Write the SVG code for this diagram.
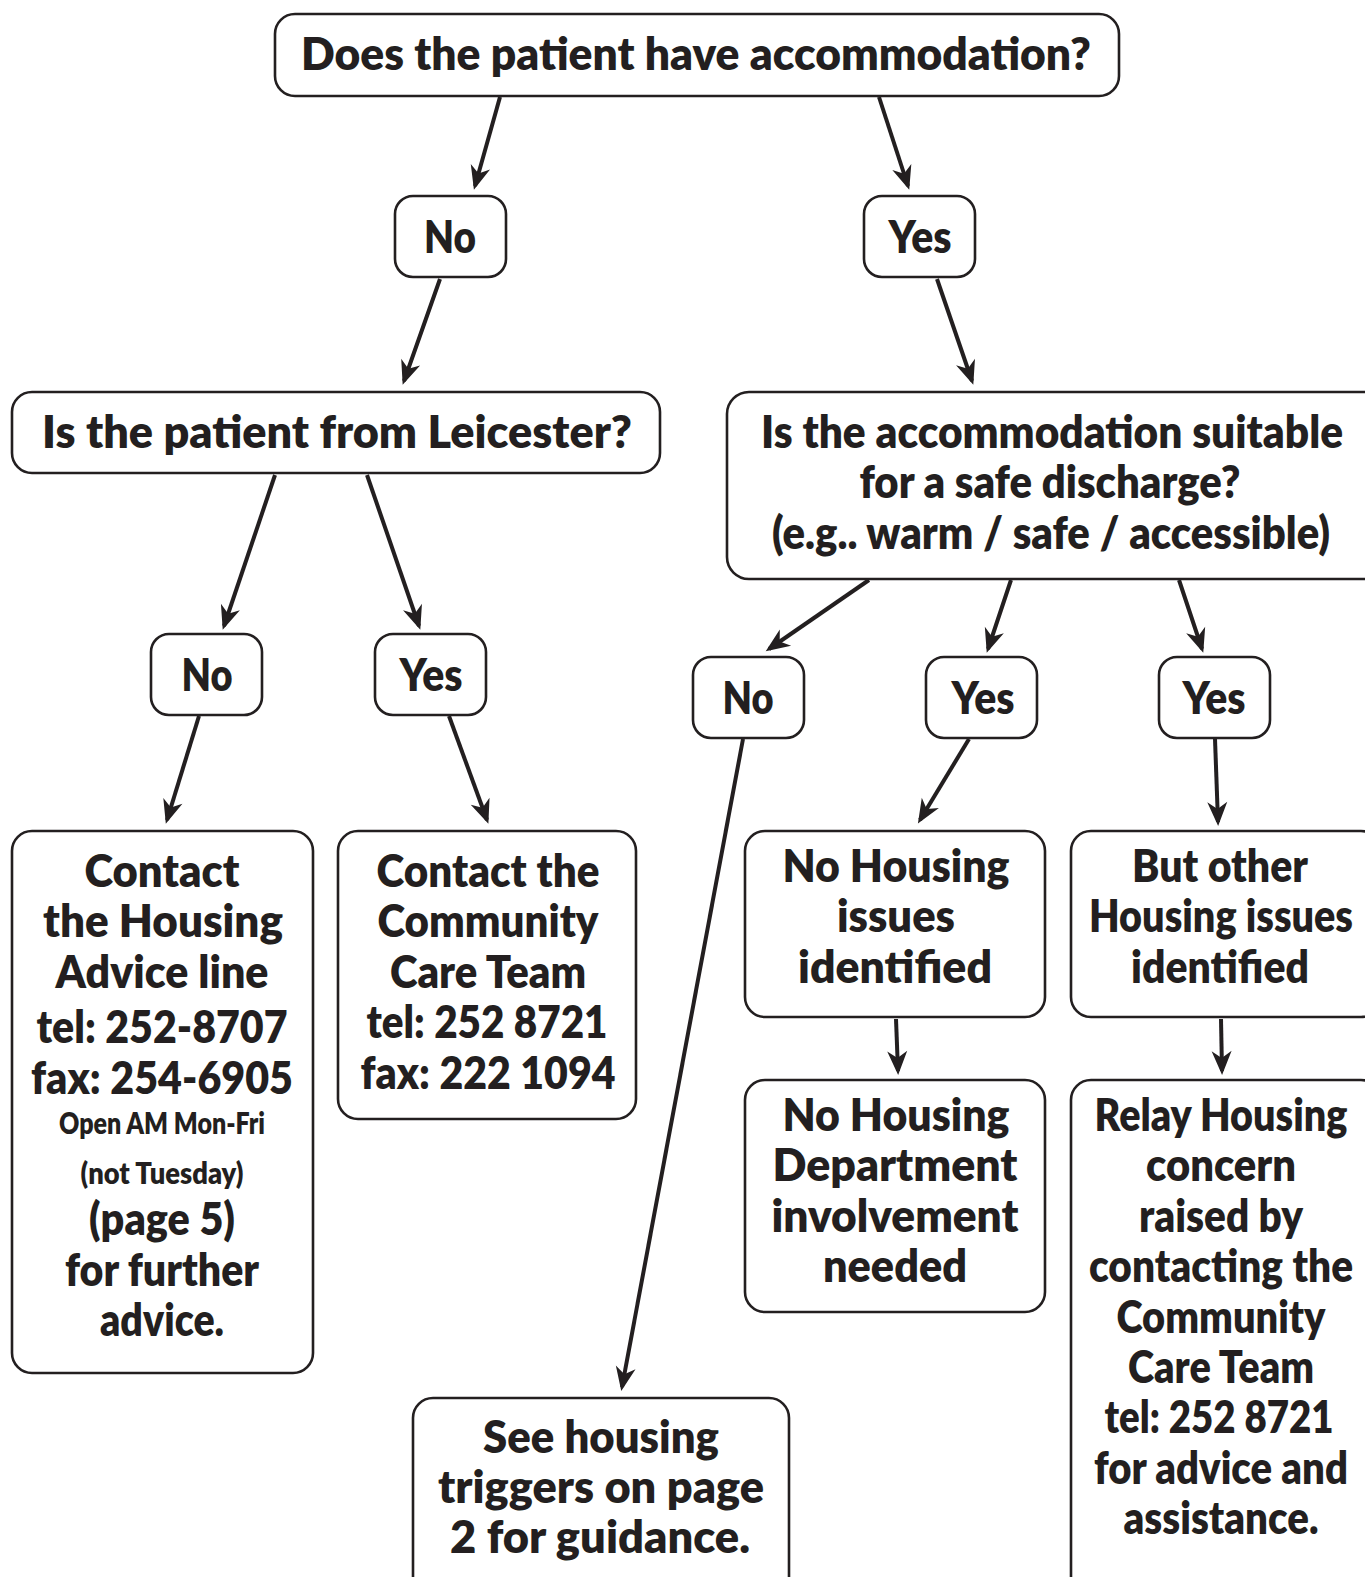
<svg xmlns="http://www.w3.org/2000/svg" width="1365" height="1577" viewBox="0 0 1365 1577">
<style>
.box{fill:#fff;stroke:#231f20;stroke-width:2.6}
.t{font-family:Lato,"Open Sans","Liberation Sans",sans-serif;font-weight:800;font-size:46px;fill:#231f20;text-anchor:middle}
.s{font-size:31px}
.c{stroke:#231f20;stroke-width:4;fill:none}
</style>
<defs>
<marker id="ah" markerUnits="userSpaceOnUse" viewBox="-26 -13 30 26" refX="-3" refY="0" markerWidth="30" markerHeight="26" orient="auto">
<path d="M1,0 L-23,-10 L-16,0 L-23,10 Z" fill="#231f20"/>
</marker>
</defs>
<rect width="1365" height="1577" fill="#fff"/>

<g id="connectors">
<line class="c" x1="500" y1="97" x2="475" y2="186" marker-end="url(#ah)"/>
<line class="c" x1="879" y1="97" x2="908" y2="186" marker-end="url(#ah)"/>
<line class="c" x1="440" y1="279" x2="404" y2="381" marker-end="url(#ah)"/>
<line class="c" x1="937" y1="279" x2="972" y2="381" marker-end="url(#ah)"/>
<line class="c" x1="275" y1="475" x2="224" y2="626" marker-end="url(#ah)"/>
<line class="c" x1="367" y1="475" x2="419" y2="626" marker-end="url(#ah)"/>
<line class="c" x1="869" y1="580" x2="769" y2="649" marker-end="url(#ah)"/>
<line class="c" x1="1011" y1="580" x2="988" y2="649" marker-end="url(#ah)"/>
<line class="c" x1="1179" y1="580" x2="1202" y2="649" marker-end="url(#ah)"/>
<line class="c" x1="199" y1="716" x2="167" y2="820" marker-end="url(#ah)"/>
<line class="c" x1="449" y1="716" x2="487" y2="820" marker-end="url(#ah)"/>
<line class="c" x1="743" y1="739" x2="622" y2="1387" marker-end="url(#ah)"/>
<line class="c" x1="969" y1="739" x2="920" y2="820" marker-end="url(#ah)"/>
<line class="c" x1="1215" y1="739" x2="1218" y2="822" marker-end="url(#ah)"/>
<line class="c" x1="896" y1="1019" x2="898" y2="1071" marker-end="url(#ah)"/>
<line class="c" x1="1221" y1="1019" x2="1222" y2="1071" marker-end="url(#ah)"/>
</g>

<g id="q1">
<rect class="box" x="275" y="14" width="844" height="82" rx="20"/>
<text class="t" x="696" y="70" textLength="790" lengthAdjust="spacingAndGlyphs">Does the patient have accommodation?</text>
</g>
<g id="no1">
<rect class="box" x="395" y="196" width="111" height="81" rx="18"/>
<text class="t" x="450" y="253" textLength="52" lengthAdjust="spacingAndGlyphs">No</text>
</g>
<g id="yes1">
<rect class="box" x="864" y="196" width="111" height="81" rx="18"/>
<text class="t" x="920" y="253" textLength="63" lengthAdjust="spacingAndGlyphs">Yes</text>
</g>

<g id="q2">
<rect class="box" x="12" y="392" width="648" height="81" rx="20"/>
<text class="t" x="337" y="448" textLength="590" lengthAdjust="spacingAndGlyphs">Is the patient from Leicester?</text>
</g>
<g id="q3">
<rect class="box" x="727" y="392" width="660" height="187" rx="22"/>
<text class="t" x="1052" y="448" textLength="582" lengthAdjust="spacingAndGlyphs">Is the accommodation suitable</text>
<text class="t" x="1050" y="498" textLength="381" lengthAdjust="spacingAndGlyphs">for a safe discharge?</text>
<text class="t" x="1051" y="549" textLength="558" lengthAdjust="spacingAndGlyphs">(e.g.. warm / safe / accessible)</text>
</g>

<g id="no2">
<rect class="box" x="151" y="634" width="111" height="81" rx="18"/>
<text class="t" x="207" y="691" textLength="51" lengthAdjust="spacingAndGlyphs">No</text>
</g>
<g id="yes2">
<rect class="box" x="375" y="634" width="111" height="81" rx="18"/>
<text class="t" x="431" y="691" textLength="63" lengthAdjust="spacingAndGlyphs">Yes</text>
</g>
<g id="no3">
<rect class="box" x="693" y="657" width="111" height="81" rx="18"/>
<text class="t" x="748" y="714" textLength="51" lengthAdjust="spacingAndGlyphs">No</text>
</g>
<g id="yes3">
<rect class="box" x="926" y="657" width="111" height="81" rx="18"/>
<text class="t" x="983" y="714" textLength="63" lengthAdjust="spacingAndGlyphs">Yes</text>
</g>
<g id="yes4">
<rect class="box" x="1159" y="657" width="111" height="81" rx="18"/>
<text class="t" x="1214" y="714" textLength="63" lengthAdjust="spacingAndGlyphs">Yes</text>
</g>

<g id="housingAdvice">
<rect class="box" x="12" y="831" width="301" height="542" rx="20"/>
<text class="t" x="162" y="887" textLength="155" lengthAdjust="spacingAndGlyphs">Contact</text>
<text class="t" x="163" y="937" textLength="240" lengthAdjust="spacingAndGlyphs">the Housing</text>
<text class="t" x="162" y="988" textLength="213" lengthAdjust="spacingAndGlyphs">Advice line</text>
<text class="t" x="162" y="1043" textLength="251" lengthAdjust="spacingAndGlyphs">tel: 252-8707</text>
<text class="t" x="162" y="1094" textLength="262" lengthAdjust="spacingAndGlyphs">fax: 254-6905</text>
<text class="t s" x="162" y="1134" textLength="206" lengthAdjust="spacingAndGlyphs">Open AM Mon-Fri</text>
<text class="t s" x="162" y="1184" textLength="163" lengthAdjust="spacingAndGlyphs">(not Tuesday)</text>
<text class="t" x="162" y="1235" textLength="146" lengthAdjust="spacingAndGlyphs">(page 5)</text>
<text class="t" x="162" y="1286" textLength="194" lengthAdjust="spacingAndGlyphs">for further</text>
<text class="t" x="162" y="1336" textLength="124" lengthAdjust="spacingAndGlyphs">advice.</text>
</g>

<g id="communityCare">
<rect class="box" x="338" y="831" width="298" height="288" rx="20"/>
<text class="t" x="488" y="887" textLength="223" lengthAdjust="spacingAndGlyphs">Contact the</text>
<text class="t" x="488" y="937" textLength="221" lengthAdjust="spacingAndGlyphs">Community</text>
<text class="t" x="488" y="988" textLength="196" lengthAdjust="spacingAndGlyphs">Care Team</text>
<text class="t" x="487" y="1038" textLength="241" lengthAdjust="spacingAndGlyphs">tel: 252 8721</text>
<text class="t" x="488" y="1089" textLength="255" lengthAdjust="spacingAndGlyphs">fax: 222 1094</text>
</g>

<g id="noIssues">
<rect class="box" x="745" y="831" width="300" height="186" rx="20"/>
<text class="t" x="896" y="882" textLength="227" lengthAdjust="spacingAndGlyphs">No Housing</text>
<text class="t" x="896" y="932" textLength="118" lengthAdjust="spacingAndGlyphs">issues</text>
<text class="t" x="895" y="983" textLength="194" lengthAdjust="spacingAndGlyphs">identified</text>
</g>

<g id="otherIssues">
<rect class="box" x="1071" y="831" width="310" height="186" rx="20"/>
<text class="t" x="1220" y="882" textLength="176" lengthAdjust="spacingAndGlyphs">But other</text>
<text class="t" x="1221" y="932" textLength="264" lengthAdjust="spacingAndGlyphs">Housing issues</text>
<text class="t" x="1220" y="983" textLength="178" lengthAdjust="spacingAndGlyphs">identified</text>
</g>

<g id="noDept">
<rect class="box" x="745" y="1080" width="300" height="232" rx="20"/>
<text class="t" x="896" y="1131" textLength="227" lengthAdjust="spacingAndGlyphs">No Housing</text>
<text class="t" x="895" y="1181" textLength="245" lengthAdjust="spacingAndGlyphs">Department</text>
<text class="t" x="895" y="1232" textLength="247" lengthAdjust="spacingAndGlyphs">involvement</text>
<text class="t" x="895" y="1282" textLength="144" lengthAdjust="spacingAndGlyphs">needed</text>
</g>

<g id="relay">
<rect class="box" x="1071" y="1080" width="310" height="520" rx="20"/>
<text class="t" x="1221" y="1131" textLength="253" lengthAdjust="spacingAndGlyphs">Relay Housing</text>
<text class="t" x="1221" y="1181" textLength="150" lengthAdjust="spacingAndGlyphs">concern</text>
<text class="t" x="1221" y="1232" textLength="164" lengthAdjust="spacingAndGlyphs">raised by</text>
<text class="t" x="1221" y="1282" textLength="264" lengthAdjust="spacingAndGlyphs">contacting the</text>
<text class="t" x="1221" y="1333" textLength="209" lengthAdjust="spacingAndGlyphs">Community</text>
<text class="t" x="1221" y="1383" textLength="186" lengthAdjust="spacingAndGlyphs">Care Team</text>
<text class="t" x="1219" y="1433" textLength="229" lengthAdjust="spacingAndGlyphs">tel: 252 8721</text>
<text class="t" x="1221" y="1484" textLength="254" lengthAdjust="spacingAndGlyphs">for advice and</text>
<text class="t" x="1221" y="1534" textLength="195" lengthAdjust="spacingAndGlyphs">assistance.</text>
</g>

<g id="seeTriggers">
<rect class="box" x="413" y="1398" width="376" height="200" rx="20"/>
<text class="t" x="601" y="1453" textLength="236" lengthAdjust="spacingAndGlyphs">See housing</text>
<text class="t" x="601" y="1503" textLength="326" lengthAdjust="spacingAndGlyphs">triggers on page</text>
<text class="t" x="600" y="1553" textLength="300" lengthAdjust="spacingAndGlyphs">2 for guidance.</text>
</g>
</svg>
